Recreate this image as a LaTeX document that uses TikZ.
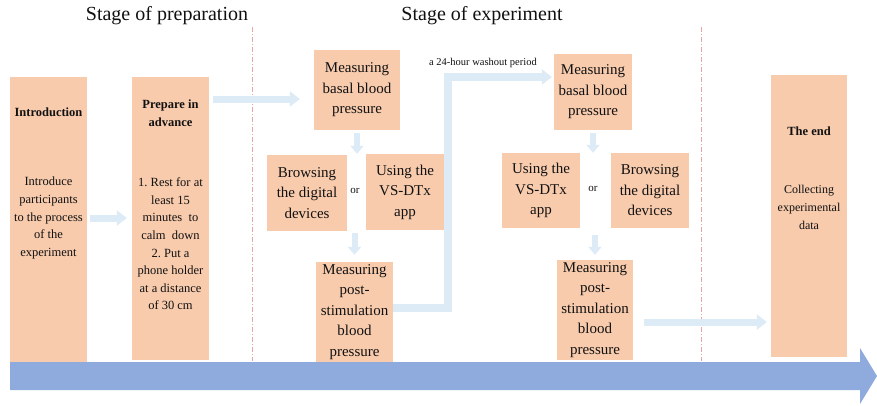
\documentclass[tikz,border=0pt]{standalone}
\usepackage{fontspec}
\setmainfont{Liberation Serif}
\usetikzlibrary{arrows.meta}
\definecolor{peach}{HTML}{F8CBAD}
\definecolor{pale}{HTML}{DDEBF7}
\definecolor{bar}{HTML}{8FAADC}
\definecolor{sep}{HTML}{E8A6A6}
\definecolor{ink}{HTML}{111111}
\begin{document}
\begin{tikzpicture}[x=1pt,y=-1pt,
 box/.style={fill=peach, draw=none, inner sep=0pt, align=center, text=ink},
 mtext/.style={font=\fontsize{15}{20.5}\selectfont},
 btext/.style={font=\fontsize{12.5}{17.6}\selectfont, align=center, inner sep=0pt, text=ink},
 ttext/.style={font=\bfseries\fontsize{12.5}{18}\selectfont, align=center, inner sep=0pt, text=ink},
 flow/.style={draw=pale, line width=7pt, -{Triangle[width=15pt,length=10pt]}},
 dflow/.style={draw=pale, line width=6pt, -{Triangle[width=13pt,length=8pt]}},
 sepline/.style={draw=sep, line width=0.8pt, dash pattern=on 5pt off 2pt on 1pt off 2pt},
 small/.style={font=\fontsize{11}{13}\selectfont, inner sep=0pt, text=ink},
 stagetitle/.style={font=\fontsize{20}{24}\selectfont, inner sep=0pt, text=ink},
]
\useasboundingbox (0,0) rectangle (877,405);

% stage titles
\node[stagetitle] (tprep) at (167,16) {Stage of preparation};
\node[stagetitle] (texp) at (482,16) {Stage of experiment};

% separators
\coordinate (s1t) at (252,27); \coordinate (s1b) at (252,361);
\coordinate (s2t) at (701,27); \coordinate (s2b) at (701,361);
\draw[sepline] (s1t) -- (s1b);
\draw[sepline] (s2t) -- (s2b);

% boxes
\node[box, minimum width=77pt, minimum height=285pt] (intro) at (48.5,219.5) {};
\node[box, minimum width=77pt, minimum height=283pt] (prep) at (170.5,218.5) {};
\node[box, mtext, minimum width=86pt, minimum height=80pt] (meas1) at (357,90) {Measuring\\basal blood\\pressure};
\node[box, mtext, minimum width=80pt, minimum height=76pt] (brow1) at (307,193) {Browsing\\the digital\\devices};
\node[box, mtext, minimum width=78pt, minimum height=76pt] (vs1) at (405,192) {Using the\\VS-DTx\\app};
\node[box, mtext, minimum width=77pt, minimum height=100pt] (post1) at (354.5,312) {Measuring\\post-\\stimulation\\blood\\pressure};
\node[box, mtext, minimum width=78pt, minimum height=76pt] (meas2) at (593,92) {Measuring\\basal blood\\pressure};
\node[box, mtext, minimum width=78pt, minimum height=75pt] (vs2) at (541,190.5) {Using the\\VS-DTx\\app};
\node[box, mtext, minimum width=78pt, minimum height=75pt] (brow2) at (650,190.5) {Browsing\\the digital\\devices};
\node[box, mtext, minimum width=76pt, minimum height=100pt] (post2) at (595,310) {Measuring\\post-\\stimulation\\blood\\pressure};
\node[box, minimum width=76pt, minimum height=282pt] (end) at (809,216) {};

% texts in tall boxes
\node[ttext] (introT) at (48.5,112) {Introduction};
\node[btext] (introB) at (48.5,218) {Introduce\\participants\\to the process\\of the\\experiment};
\node[ttext] (prepT) at (170.5,113) {Prepare in\\advance};
\node[btext] (prepB) at (170.5,244) {1.\ Rest for at\\least 15\\minutes~ to\\calm~ down\\2.\ Put a\\phone holder\\at a distance\\of 30 cm};
\node[ttext] (endT) at (809,131) {The end};
\node[btext, font=\fontsize{12}{18}\selectfont] (endB) at (809,207) {Collecting\\experimental\\data};

% or labels
\node[small] (or1) at (355,191) {or};
\node[small] (or2) at (593,189) {or};

% flow arrows
\draw[flow, shorten <=3pt, shorten >=5pt] (intro.east |- introB) -- (prep.west |- introB);
\coordinate (y99) at (0,99);
\draw[flow, shorten <=4pt, shorten >=14pt] (prep.east |- y99) -- (meas1.west |- y99);
\draw[dflow, shorten <=3pt, shorten >=1pt] (meas1.south) -- (meas1.south |- brow1.north);
\draw[dflow, shorten <=2pt, shorten >=7pt] (post1.north |- brow1.south) -- (post1.north);
\draw[dflow, shorten <=3pt, shorten >=0pt] (meas2.south) -- (meas2.south |- vs2.north);
\draw[dflow, shorten <=7pt, shorten >=5pt] (post2.north |- vs2.south) -- (post2.north);

% washout connector
\coordinate (wb) at (448,308);
\coordinate (wt) at (448,77);
\draw[draw=pale, line width=8pt, line join=miter, -{Triangle[width=15pt,length=10pt]}, shorten >=2pt]
  (post1.east |- wb) -- (wb) -- (wt) -- (meas2.west |- wt);
\node[small, font=\fontsize{10.5}{12}\selectfont] (wlabel) at (483,63) {a 24-hour washout period};

% post2 -> end
\coordinate (y322) at (0,322);
\draw[flow, shorten <=11pt, shorten >=4pt] (post2.east |- y322) -- (end.west |- y322);

% time arrow
\fill[bar] (10,362) -- (860,362) -- (860,348) -- (877,376) -- (860,404) -- (860,390) -- (10,390) -- cycle;
\end{tikzpicture}
\end{document}
